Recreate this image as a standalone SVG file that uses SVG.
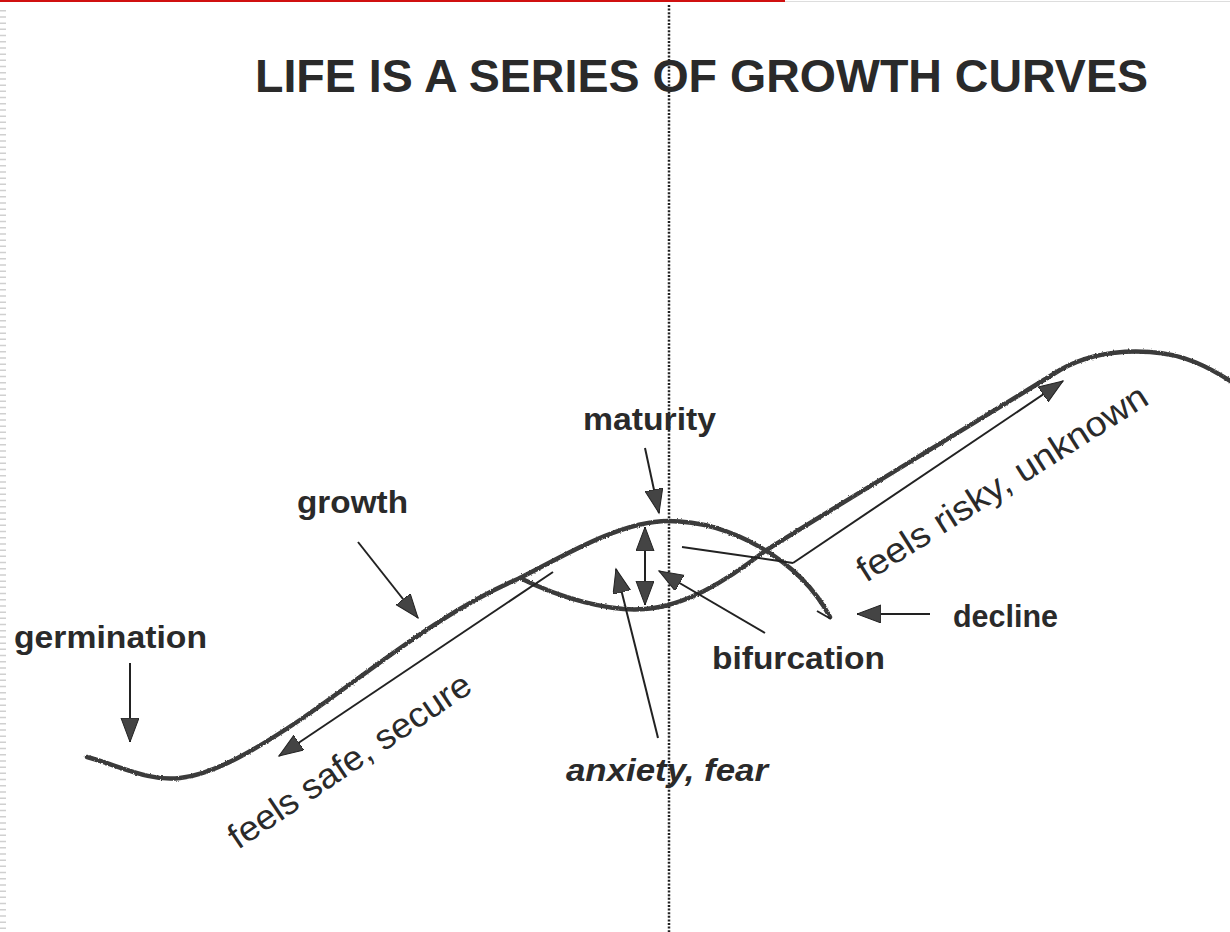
<svg xmlns="http://www.w3.org/2000/svg" width="1230" height="932" viewBox="0 0 1230 932">
<defs>
<style>
.curve{fill:none;stroke:#3a3a3a;stroke-width:4.5;stroke-linecap:round;stroke-linejoin:round}
.thin{fill:none;stroke:#222;stroke-width:2}
.lbl{font-family:"Liberation Sans",Arial,sans-serif;font-weight:bold;font-size:32px;fill:#2a2a2a}
.rot{font-family:"Liberation Sans",Arial,sans-serif;font-size:35px;fill:#2a2a2a}
</style>
<marker id="ah" markerUnits="userSpaceOnUse" markerWidth="26" markerHeight="20" refX="24" refY="9" orient="auto-start-reverse" viewBox="0 0 26 20">
<path d="M0,0 L24,9 L0,18 Z" fill="#444" stroke="#222" stroke-width="1"/>
</marker>
<filter id="rough" x="-5%" y="-5%" width="110%" height="110%">
<feTurbulence type="fractalNoise" baseFrequency="0.6" numOctaves="2" seed="3"/>
<feDisplacementMap in="SourceGraphic" scale="2.5" xChannelSelector="R" yChannelSelector="G"/>
</filter>
</defs>
<rect width="1230" height="932" fill="#fff"/>
<line x1="0" y1="1" x2="785" y2="1" stroke="#d01010" stroke-width="2"/>
<line x1="785" y1="1.5" x2="1230" y2="1.5" stroke="#ddd" stroke-width="1"/>
<line x1="3" y1="10" x2="3" y2="932" stroke="#d0d0d0" stroke-width="6" stroke-dasharray="1.5 4.7"/>
<line x1="669" y1="5" x2="669" y2="932" stroke="#222" stroke-width="2.5" stroke-dasharray="2 1.6"/>
<g id="title"><text class="lbl" x="255" y="92" textLength="893" lengthAdjust="spacingAndGlyphs" style="font-size:47px">LIFE IS A SERIES OF GROWTH CURVES</text></g>
<g id="curve1"><path class="curve" filter="url(#rough)" d="M87,757 C120,766 150,782 180,778 C215,774 255,750 300,720 C370,672 440,612 520,578 C560,558 620,521 668,521 C730,521 800,560 830,617"/>
<path class="thin" d="M817,611 L831,619"/></g>
<g id="curve2"><path class="curve" filter="url(#rough)" d="M520,578 C560,598 610,612 645,609 C685,606 725,582 765,551 C820,516 960,432 1060,370 C1090,353 1120,350 1150,352 C1185,354 1210,368 1232,382"/></g>
<g id="connectors">
<line class="thin" x1="553" y1="572" x2="279" y2="756" marker-end="url(#ah)"/>
<line class="thin" x1="793" y1="563" x2="1063" y2="381" marker-end="url(#ah)"/>
<line class="thin" x1="682" y1="547" x2="793" y2="563"/>
<line class="thin" x1="645" y1="448" x2="659" y2="513" marker-end="url(#ah)"/>
<line class="thin" x1="645" y1="527" x2="645" y2="605" marker-start="url(#ah)" marker-end="url(#ah)"/>
<line class="thin" x1="658" y1="738" x2="616" y2="569" marker-end="url(#ah)"/>
<line class="thin" x1="765" y1="633" x2="659" y2="571" marker-end="url(#ah)"/>
<line class="thin" x1="358" y1="542" x2="418" y2="618" marker-end="url(#ah)"/>
<line class="thin" x1="130" y1="663" x2="130" y2="742" marker-end="url(#ah)"/>
<line class="thin" x1="930" y1="614" x2="857" y2="614" marker-end="url(#ah)"/>
</g>
<g id="maturity"><text class="lbl" x="583" y="430" textLength="133" lengthAdjust="spacingAndGlyphs">maturity</text></g>
<g id="growth"><text class="lbl" x="297" y="513" textLength="111" lengthAdjust="spacingAndGlyphs">growth</text></g>
<g id="germination"><text class="lbl" x="14" y="648" textLength="193" lengthAdjust="spacingAndGlyphs">germination</text></g>
<g id="bifurcation"><text class="lbl" x="712" y="669" textLength="173" lengthAdjust="spacingAndGlyphs">bifurcation</text></g>
<g id="decline"><text class="lbl" x="953" y="627" textLength="105" lengthAdjust="spacingAndGlyphs" style="font-size:31px">decline</text></g>
<g id="anxiety"><text class="lbl" x="566" y="781" textLength="202" lengthAdjust="spacingAndGlyphs" style="font-style:italic">anxiety, fear</text></g>
<g id="safe"><text class="rot" transform="translate(238,850) rotate(-34)" textLength="285" lengthAdjust="spacingAndGlyphs">feels safe, secure</text></g>
<g id="risky"><text class="rot" transform="translate(866,583) rotate(-32.3)" textLength="337" lengthAdjust="spacingAndGlyphs">feels risky, unknown</text></g>
</svg>
